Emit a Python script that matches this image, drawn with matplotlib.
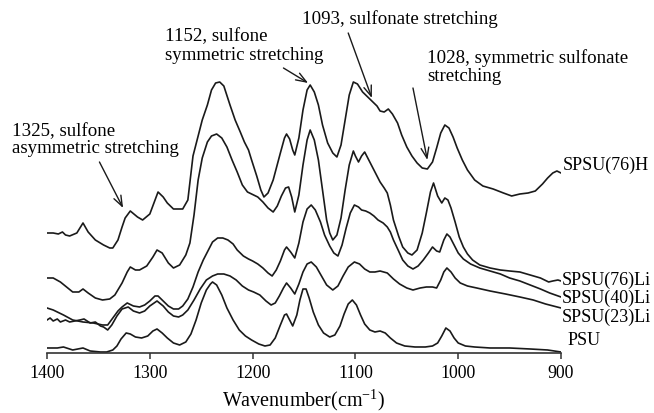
import matplotlib
matplotlib.use("Agg")
import matplotlib.pyplot as plt

plt.rcParams['font.family'] = 'Liberation Serif'
plt.rcParams['mathtext.fontset'] = 'custom'
plt.rcParams['mathtext.rm'] = 'Liberation Serif'

# spectra (wavenumber in cm-1, stacked absorbance in a.u.)
spsu76h_wn = [1400, 1394, 1389, 1385, 1382, 1378, 1371, 1365, 1360, 1353, 1345, 1339, 1336, 1331, 1327, 1324, 1319, 1312, 1307, 1300,
              1292, 1287, 1283, 1277, 1268, 1263, 1258, 1254, 1249, 1244, 1240, 1236, 1232, 1228, 1222, 1217, 1212, 1208, 1204, 1201,
              1196, 1192, 1189, 1185, 1180, 1173, 1169, 1167, 1164, 1161, 1159, 1155, 1151, 1147, 1144, 1140, 1136, 1132, 1127, 1122,
              1118, 1114, 1110, 1106, 1102, 1098, 1093, 1088, 1084, 1079, 1076, 1072, 1068, 1064, 1059, 1055, 1050, 1045, 1040, 1035,
              1030, 1025, 1021, 1017, 1013, 1009, 1005, 1001, 996, 991, 984, 976, 966, 956, 948, 940, 932, 925, 918, 913,
              908, 904, 900]
spsu76h_a = [1.20, 1.20, 1.19, 1.21, 1.18, 1.17, 1.20, 1.30, 1.21, 1.13, 1.08, 1.05, 1.05, 1.13, 1.26, 1.35, 1.42, 1.36, 1.33, 1.39,
             1.61, 1.56, 1.50, 1.44, 1.44, 1.53, 1.97, 2.13, 2.33, 2.48, 2.63, 2.70, 2.71, 2.67, 2.48, 2.33, 2.21, 2.11, 2.03, 1.93,
             1.77, 1.63, 1.56, 1.60, 1.73, 2.00, 2.15, 2.19, 2.14, 2.03, 1.98, 2.15, 2.43, 2.63, 2.68, 2.61, 2.48, 2.28, 2.10, 2.00,
             1.96, 2.08, 2.33, 2.58, 2.71, 2.69, 2.61, 2.56, 2.52, 2.47, 2.42, 2.41, 2.44, 2.39, 2.30, 2.18, 2.06, 1.97, 1.90, 1.85,
             1.84, 1.91, 2.05, 2.20, 2.28, 2.25, 2.16, 2.05, 1.93, 1.83, 1.73, 1.67, 1.64, 1.60, 1.57, 1.59, 1.60, 1.62, 1.69, 1.75,
             1.80, 1.82, 1.80]

spsu76li_wn = [1400, 1394, 1387, 1381, 1375, 1369, 1365, 1360, 1353, 1346, 1339, 1334, 1327, 1322, 1319, 1314, 1310, 1303, 1297, 1293,
               1288, 1282, 1277, 1271, 1265, 1261, 1257, 1253, 1249, 1244, 1240, 1235, 1230, 1225, 1220, 1215, 1210, 1205, 1201, 1195,
               1190, 1185, 1180, 1176, 1172, 1168, 1165, 1162, 1159, 1155, 1151, 1147, 1144, 1140, 1136, 1132, 1128, 1125, 1122, 1118,
               1114, 1110, 1106, 1102, 1100, 1097, 1094, 1091, 1087, 1083, 1079, 1076, 1072, 1069, 1066, 1063, 1058, 1054, 1049, 1045,
               1040, 1035, 1031, 1027, 1024, 1020, 1016, 1013, 1010, 1007, 1003, 999, 995, 991, 986, 979, 969, 959, 950, 940,
               930, 920, 912, 908, 903, 900]
spsu76li_a = [0.75, 0.75, 0.71, 0.66, 0.61, 0.61, 0.64, 0.60, 0.55, 0.53, 0.54, 0.58, 0.70, 0.81, 0.86, 0.83, 0.83, 0.87, 0.96, 1.03,
              1.00, 0.90, 0.85, 0.88, 0.98, 1.10, 1.38, 1.73, 1.95, 2.11, 2.17, 2.19, 2.15, 2.06, 1.93, 1.81, 1.68, 1.61, 1.59, 1.56,
              1.51, 1.45, 1.41, 1.47, 1.57, 1.65, 1.66, 1.56, 1.41, 1.58, 1.88, 2.13, 2.23, 2.13, 1.93, 1.63, 1.33, 1.20, 1.13, 1.18,
              1.35, 1.63, 1.88, 2.02, 1.97, 1.91, 1.97, 2.01, 1.93, 1.85, 1.77, 1.71, 1.65, 1.60, 1.48, 1.33, 1.17, 1.06, 1.00, 0.98,
              1.03, 1.20, 1.40, 1.61, 1.70, 1.57, 1.50, 1.55, 1.53, 1.45, 1.31, 1.16, 1.06, 0.99, 0.93, 0.88, 0.85, 0.83, 0.82, 0.81,
              0.78, 0.75, 0.71, 0.72, 0.73, 0.72]

spsu40li_wn = [1400, 1394, 1384, 1375, 1365, 1355, 1346, 1341, 1336, 1331, 1327, 1322, 1316, 1310, 1305, 1300, 1295, 1292, 1287, 1282,
               1277, 1272, 1268, 1263, 1258, 1253, 1248, 1243, 1239, 1234, 1229, 1224, 1219, 1215, 1209, 1204, 1200, 1195, 1190, 1185,
               1181, 1177, 1173, 1169, 1167, 1163, 1159, 1155, 1151, 1147, 1143, 1139, 1134, 1130, 1125, 1121, 1117, 1113, 1109, 1105,
               1101, 1097, 1094, 1090, 1086, 1082, 1078, 1073, 1069, 1066, 1063, 1058, 1054, 1049, 1044, 1039, 1034, 1029, 1025, 1021,
               1018, 1014, 1011, 1008, 1004, 1000, 995, 988, 979, 969, 959, 950, 940, 930, 920, 911, 900]
spsu40li_a = [0.45, 0.43, 0.38, 0.33, 0.31, 0.30, 0.28, 0.28, 0.35, 0.42, 0.46, 0.50, 0.47, 0.46, 0.48, 0.52, 0.57, 0.57, 0.52, 0.47,
              0.44, 0.44, 0.47, 0.54, 0.66, 0.81, 0.93, 1.03, 1.11, 1.15, 1.15, 1.13, 1.09, 1.03, 0.97, 0.94, 0.92, 0.89, 0.85, 0.80,
              0.77, 0.83, 0.92, 1.03, 1.06, 1.01, 0.95, 1.10, 1.31, 1.44, 1.48, 1.43, 1.31, 1.18, 1.07, 1.00, 0.97, 1.08, 1.25, 1.40,
              1.48, 1.46, 1.43, 1.42, 1.40, 1.37, 1.33, 1.30, 1.26, 1.21, 1.13, 1.02, 0.93, 0.87, 0.84, 0.87, 0.93, 1.00, 1.06, 1.02,
              1.01, 1.13, 1.19, 1.16, 1.08, 1.00, 0.94, 0.89, 0.85, 0.82, 0.79, 0.75, 0.72, 0.68, 0.64, 0.60, 0.56]

spsu23li_wn = [1400, 1397, 1394, 1390, 1387, 1382, 1378, 1373, 1368, 1364, 1358, 1353, 1348, 1345, 1341, 1337, 1332, 1327, 1321, 1316,
               1310, 1305, 1300, 1293, 1287, 1282, 1277, 1272, 1268, 1263, 1257, 1251, 1245, 1239, 1234, 1228, 1222, 1216, 1210, 1204,
               1199, 1193, 1187, 1182, 1178, 1174, 1170, 1167, 1163, 1159, 1155, 1151, 1147, 1143, 1138, 1133, 1128, 1122, 1117, 1112,
               1107, 1101, 1096, 1091, 1086, 1081, 1076, 1069, 1063, 1057, 1050, 1044, 1037, 1031, 1025, 1021, 1017, 1014, 1011, 1007,
               1003, 998, 991, 982, 969, 954, 940, 927, 915, 900]
spsu23li_a = [0.33, 0.35, 0.32, 0.34, 0.31, 0.33, 0.31, 0.32, 0.33, 0.34, 0.30, 0.31, 0.27, 0.26, 0.23, 0.28, 0.37, 0.44, 0.46, 0.42,
              0.40, 0.42, 0.47, 0.52, 0.47, 0.41, 0.37, 0.36, 0.38, 0.43, 0.53, 0.64, 0.73, 0.77, 0.79, 0.79, 0.77, 0.73, 0.67, 0.63,
              0.61, 0.58, 0.52, 0.48, 0.50, 0.57, 0.65, 0.70, 0.65, 0.59, 0.69, 0.81, 0.89, 0.91, 0.86, 0.77, 0.68, 0.63, 0.67, 0.77,
              0.86, 0.91, 0.89, 0.84, 0.81, 0.81, 0.82, 0.80, 0.74, 0.69, 0.65, 0.63, 0.65, 0.66, 0.66, 0.65, 0.73, 0.81, 0.85, 0.81,
              0.75, 0.70, 0.67, 0.65, 0.62, 0.59, 0.56, 0.53, 0.49, 0.45]

psu_wn = [1400, 1390, 1384, 1375, 1365, 1358, 1348, 1342, 1336, 1332, 1328, 1323, 1319, 1314, 1308, 1302, 1297, 1293, 1288, 1283,
          1277, 1271, 1265, 1260, 1255, 1250, 1245, 1241, 1239, 1235, 1230, 1225, 1219, 1213, 1207, 1201, 1194, 1188, 1183, 1178,
          1173, 1169, 1167, 1164, 1161, 1157, 1154, 1151, 1148, 1145, 1141, 1136, 1131, 1125, 1120, 1115, 1111, 1107, 1103, 1099,
          1095, 1091, 1086, 1081, 1076, 1071, 1066, 1060, 1052, 1042, 1032, 1025, 1020, 1016, 1012, 1008, 1004, 1000, 993, 984,
          969, 950, 930, 913, 900]
psu_a = [0.05, 0.05, 0.06, 0.03, 0.05, 0.02, 0.01, 0.01, 0.03, 0.07, 0.14, 0.20, 0.19, 0.16, 0.15, 0.17, 0.22, 0.24, 0.20, 0.15,
         0.10, 0.08, 0.11, 0.19, 0.33, 0.50, 0.63, 0.69, 0.71, 0.68, 0.58, 0.45, 0.33, 0.23, 0.17, 0.13, 0.09, 0.07, 0.08, 0.15,
         0.28, 0.38, 0.39, 0.33, 0.27, 0.38, 0.53, 0.64, 0.64, 0.55, 0.41, 0.28, 0.20, 0.16, 0.18, 0.27, 0.39, 0.49, 0.53, 0.48,
         0.38, 0.29, 0.23, 0.21, 0.22, 0.20, 0.15, 0.10, 0.07, 0.06, 0.06, 0.07, 0.10, 0.17, 0.25, 0.22, 0.15, 0.10, 0.07, 0.06,
         0.05, 0.05, 0.04, 0.03, 0.01]

series = [
    (spsu76h_wn, spsu76h_a, 'SPSU(76)H'),
    (spsu76li_wn, spsu76li_a, 'SPSU(76)Li'),
    (spsu40li_wn, spsu40li_a, 'SPSU(40)Li'),
    (spsu23li_wn, spsu23li_a, 'SPSU(23)Li'),
    (psu_wn, psu_a, 'PSU'),
]
# where each curve's name sits at the right end
label_y = [1.88, 0.73, 0.55, 0.36, 0.12]
label_x = [898, 899, 899, 899, 894]

fig = plt.figure(figsize=(6.54, 4.13), dpi=100)
ax = fig.add_axes([0.0719, 0.1453, 0.7859, 0.8547])

for (wn, a, name), lx, ly in zip(series, label_x, label_y):
    ax.plot(wn, a, color='#1a1a1a', lw=1.2, solid_joinstyle='round')
    ax.text(lx, ly, name, fontsize=13.0, ha='left', va='center', clip_on=False)

ax.set_xlim(1400, 900)
ax.set_ylim(0, 3.53)
for s in ['left', 'right', 'top']:
    ax.spines[s].set_visible(False)
ax.spines['bottom'].set_linewidth(1.2)
ax.spines['bottom'].set_color('#333333')
ax.set_yticks([])
ax.set_xticks([1400, 1300, 1200, 1100, 1000, 900])
ax.tick_params(axis='x', direction='out', length=4, width=1.1, color='#333333', labelsize=12.8, pad=5)
ax.set_xlabel('Wavenumber(cm$^{\\mathrm{-1}}$)', fontsize=14.5, labelpad=3)

arrow = dict(arrowstyle='->,head_length=0.75,head_width=0.28', lw=1.0, color='#1a1a1a', shrinkA=0, shrinkB=0)

ax.text(1434, 2.13, '1325, sulfone\nasymmetric stretching', fontsize=13.6, ha='left', va='center', linespacing=1.05)
ax.annotate('', xy=(1326, 1.45), xytext=(1349, 1.91), arrowprops=arrow, annotation_clip=False)

ax.text(1285, 3.07, '1152, sulfone\nsymmetric stretching', fontsize=13.6, ha='left', va='center', linespacing=1.1)
ax.annotate('', xy=(1146, 2.70), xytext=(1170, 2.85), arrowprops=arrow, annotation_clip=False)

ax.text(1152, 3.34, '1093, sulfonate stretching', fontsize=13.6, ha='left', va='center')
ax.annotate('', xy=(1084, 2.55), xytext=(1107, 3.20), arrowprops=arrow, annotation_clip=False)

ax.text(1030, 2.86, '1028, symmetric sulfonate\nstretching', fontsize=13.6, ha='left', va='center', linespacing=1.1)
ax.annotate('', xy=(1030, 1.93), xytext=(1044, 2.65), arrowprops=arrow, annotation_clip=False)

plt.savefig('out.png', dpi=100)
